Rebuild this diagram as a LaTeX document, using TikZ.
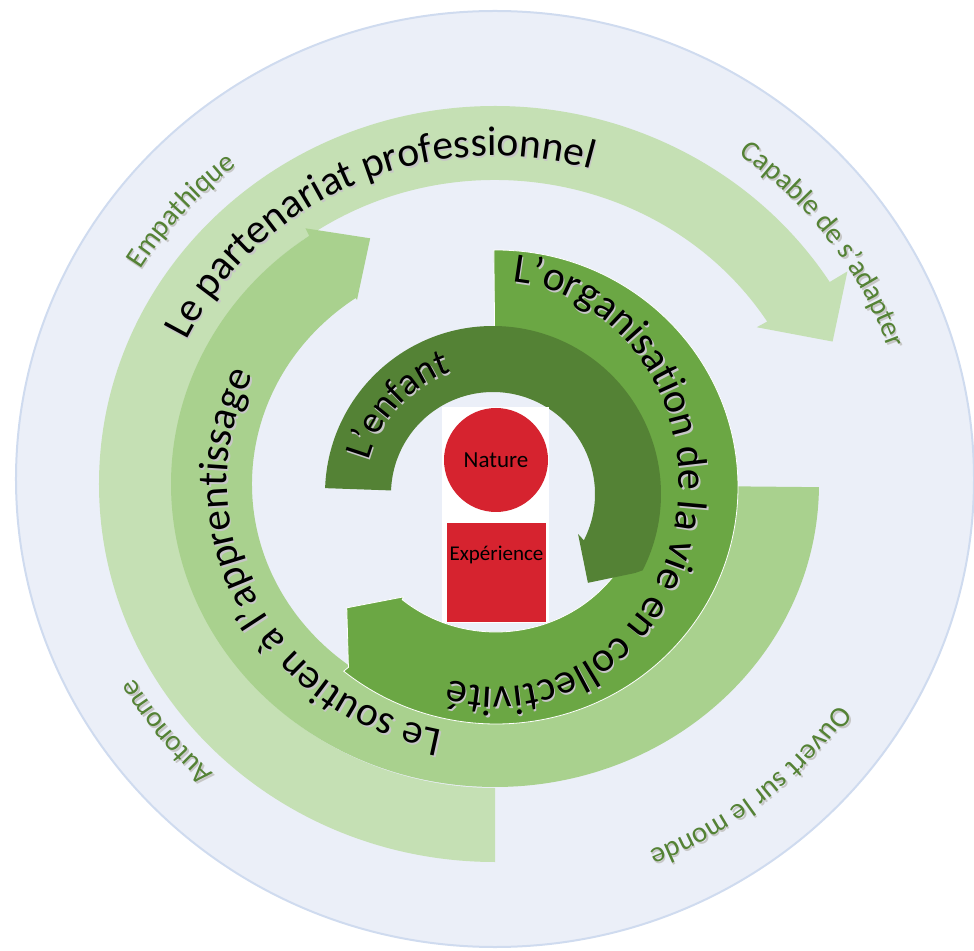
\documentclass[tikz,border=0pt]{standalone}
\usepackage{fontspec}
\setmainfont{Carlito}
\usetikzlibrary{decorations.text}
\definecolor{ringfill}{HTML}{EBEFF8}
\definecolor{ringline}{HTML}{CFDBEF}
\definecolor{lightband}{HTML}{C5E0B4}
\definecolor{midband}{HTML}{A9D18E}
\definecolor{orgband}{HTML}{6BA744}
\definecolor{childband}{HTML}{548235}
\definecolor{labelgreen}{HTML}{548235}
\definecolor{natred}{HTML}{D6232F}

\begin{document}
\begin{tikzpicture}[x=1pt, y=1pt,
    redbox/.style={fill=natred, inner sep=0pt, text=black},
    arctext/.style={decorate, decoration={text along path, text align=center, text={#1}}}]
    \useasboundingbox (-495,-471) rectangle (479,479);

    % background ring
    \draw[fill=ringfill, draw=ringline, line width=2] (0,0) ellipse [x radius=479, y radius=468];

    % Le partenariat professionnel
    \fill[lightband, shift={(0,-5)}] (270:396 and 378) arc[start angle=270, end angle=32.3, x radius=396, y radius=378]
        -- (32.3:417 and 398) -- (23.8:369 and 353) -- (32.1:309 and 295) -- (32.3:322 and 304)
        arc[start angle=32.3, end angle=270, x radius=322, y radius=304] -- cycle;

    % Le soutien a l'apprentissage
    \fill[midband, shift={(0,-5)}] (-0.6:324 and 303) arc[start angle=-0.6, end angle=-235, x radius=324, y radius=303]
        -- (-235.3:333 and 311) -- (-244.6:291 and 272) -- (-234.9:240 and 225) -- (-235:243 and 227)
        arc[start angle=-235, end angle=-0.6, x radius=243, y radius=227] -- cycle;

    % L'organisation de la vie en collectivite
    \filldraw[orgband, draw=white, line width=0.8, shift={(1,-8)}] (90.5:242 and 237) arc[start angle=90.5, end angle=-129, x radius=242, y radius=237]
        -- (-128.7:236 and 231) -- (-141:192) -- (-129.3:146 and 142) -- (-129:149 and 145)
        arc[start angle=-129, end angle=90.5, x radius=149, y radius=145] -- cycle;

    % L'enfant
    \fill[childband, shift={(-2,-15)}] (178:168) arc[start angle=178, end angle=-27, radius=168]
        -- (-29.1:162.5) -- (-43.1:130) -- (-25.2:94) -- (-27:102)
        arc[start angle=-27, end angle=178, radius=102] -- cycle;

    % centre
    \node (cadre) [fill=white, minimum width=107, minimum height=216] at (0.5,-36) {};
    \node (nature) [redbox, circle, minimum size=104] at (1,19) {\fontsize{23}{23}\selectfont Nature};
    \node (experience) [redbox, minimum size=99, text depth=38] at (1.5,-93.5) {\fontsize{21}{21}\selectfont Expérience};

    % texts, shadow first
    \foreach \dx/\dy/\ink/\leaf in {1.5/-2/black!22/black!22, 0/0/black/labelgreen} {
      \begin{scope}[shift={(\dx,\dy)}]
        % on the arrows
        \path[arctext={|\fontsize{41.5}{41.5}\selectfont|Le partenariat professionnel}, decoration={text color=\ink}, shift={(0,-5)}]
            (204.5:343 and 328) arc[start angle=204.5, end angle=24.5, x radius=343, y radius=328];
        \path[arctext={|\fontsize{41.5}{41.5}\selectfont|Le soutien à l’apprentissage}, decoration={text color=\ink}, shift={(0,-5)}]
            (306:268 and 251) arc[start angle=306, end angle=106, x radius=268, y radius=251];
        \path[arctext={|\fontsize{42}{42}\selectfont|L’organisation de la vie en collectivité}, decoration={text color=\ink}, shift={(2,-5)}]
            (140.7:182 and 203) arc[start angle=140.7, end angle=-159.3, x radius=182, y radius=203];
        \path[arctext={|\fontsize{38}{38}\selectfont|L’enfant}, decoration={text color=\ink}, shift={(-2,-15)}]
            (217:129) arc[start angle=217, end angle=57, radius=129];

        % qualities
        \path[arctext={|\fontsize{29}{29}\selectfont|Empathique}, decoration={text color=\leaf}]
            (229.5:416 and 400) arc[start angle=229.5, end angle=49.5, x radius=416, y radius=400];
        \path[arctext={|\fontsize{29}{29}\selectfont|Capable de s’adapter}, decoration={text color=\leaf}]
            (125.6:416 and 400) arc[start angle=125.6, end angle=-54.4, x radius=416, y radius=400];
        \path[arctext={|\fontsize{29}{29}\selectfont|Ouvert sur le monde}, decoration={text color=\leaf}]
            (39.7:416 and 400) arc[start angle=39.7, end angle=-140.3, x radius=416, y radius=400];
        \path[arctext={|\fontsize{29}{29}\selectfont|Autonome}, decoration={text color=\leaf}]
            (307.6:416 and 400) arc[start angle=307.6, end angle=127.6, x radius=416, y radius=400];
      \end{scope}
    }
\end{tikzpicture}
\end{document}
